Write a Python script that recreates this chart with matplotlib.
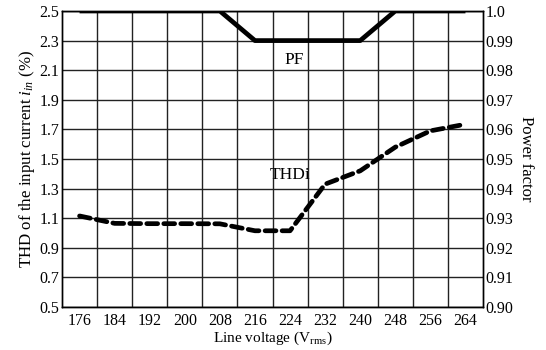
import matplotlib.pyplot as plt
import numpy as np

plt.rcParams['font.family'] = ['Liberation Serif', 'DejaVu Serif']
plt.rcParams['mathtext.fontset'] = 'custom'
plt.rcParams['mathtext.rm'] = 'Liberation Serif'
plt.rcParams['mathtext.it'] = 'Liberation Serif:italic'

# line voltage (Vrms)
voltage = [176, 184, 192, 200, 208, 216, 224, 232, 240, 248, 256, 264]
# THD of input current (%) - left axis
thdi = [1.115, 1.065, 1.063, 1.063, 1.062, 1.015, 1.015, 1.33, 1.42, 1.58, 1.69, 1.735]
# power factor - right axis
pf = [1.0, 1.0, 1.0, 1.0, 1.0, 0.99, 0.99, 0.99, 0.99, 1.0, 1.0, 1.0]

left_ticks = [0.5, 0.7, 0.9, 1.1, 1.3, 1.5, 1.7, 1.9, 2.1, 2.3, 2.5]
left_labels = ['0.5', '0.7', '0.9', '1.1', '1.3', '1.5', '1.7', '1.9', '2.1', '2.3', '2.5']
right_ticks = [0.90, 0.91, 0.92, 0.93, 0.94, 0.95, 0.96, 0.97, 0.98, 0.99, 1.0]
right_labels = ['0.90', '0.91', '0.92', '0.93', '0.94', '0.95', '0.96', '0.97', '0.98', '0.99', '1.0']

fig = plt.figure(figsize=(5.46, 3.5), dpi=100)
ax = fig.add_axes([0.1136, 0.1229, 0.771, 0.8457])
ax2 = ax.twinx()

ax.set_xlim(172, 268)
ax.set_ylim(0.5, 2.5)
ax2.set_ylim(0.90, 1.0)

# grid on cell borders, labels at cell centers
ax.set_xticks(voltage)
ax.set_xticklabels([str(v) for v in voltage])
ax.set_xticks(np.arange(180, 268, 8), minor=True)
ax.set_yticks(left_ticks)
ax.set_yticklabels(left_labels)
ax2.set_yticks(right_ticks)
ax2.set_yticklabels(right_labels)

ax.grid(True, which='minor', axis='x', color='#222222', lw=1.0)
ax.grid(True, which='major', axis='y', color='#222222', lw=1.0)
ax.tick_params(axis='both', which='both', length=0, labelsize=11.5, colors='black')
ax.tick_params(axis='x', pad=4)
ax.tick_params(axis='y', pad=2)
ax2.tick_params(axis='y', length=0, labelsize=11.5, pad=2)

ax.plot(voltage, thdi, color='black', lw=3.4, ls=(0, (2.3, 1.3)),
        dash_capstyle='round', zorder=3)
ax2.plot(voltage, pf, color='black', lw=3.4, solid_capstyle='butt', zorder=3)

for sp in ax.spines.values():
    sp.set_linewidth(1.0)
for sp in ax2.spines.values():
    sp.set_linewidth(1.0)

ax.text(225, 2.17, 'PF', fontsize=12.5, ha='center', va='center')
ax.text(224, 1.39, 'THDi', fontsize=12.5, ha='center', va='center')

ax.set_xlabel('Line voltage (V$_{\\mathrm{rms}}$)', fontsize=11, labelpad=1)
ax.set_ylabel('THD of the input current $\\mathit{i}_{\\mathit{in}}$ (%)', fontsize=12.2, labelpad=2)
ax2.set_ylabel('Power factor', fontsize=12, rotation=270, labelpad=15)

fig.savefig('out.png', dpi=100)
